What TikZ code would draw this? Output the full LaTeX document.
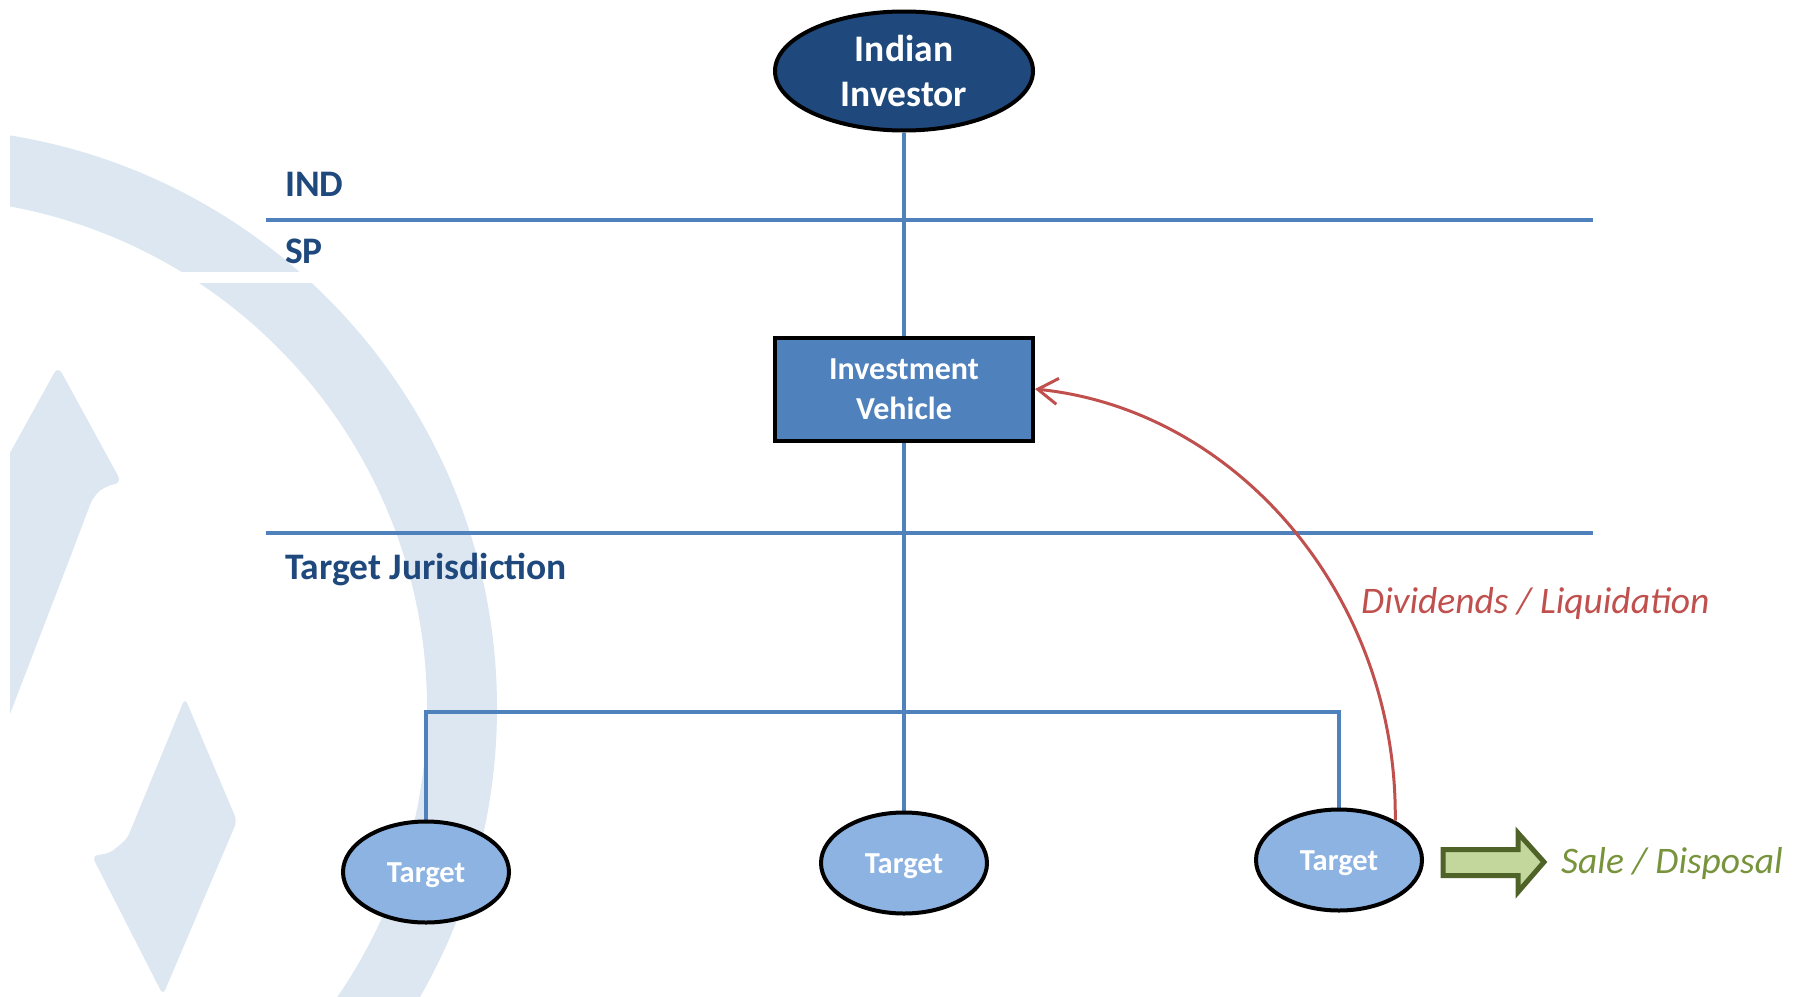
\documentclass[tikz,border=0pt]{standalone}
\usepackage{fontspec}
\setmainfont{Carlito}
\usetikzlibrary{arrows.meta,calc,shapes.geometric,backgrounds}
\definecolor{wm}{RGB}{221,231,241}
\definecolor{dkblue}{HTML}{1F497D}
\definecolor{medblue}{HTML}{4F81BD}
\definecolor{ltblue}{HTML}{8DB3E2}
\definecolor{redc}{HTML}{C0504D}
\definecolor{grfill}{HTML}{C3D69B}
\definecolor{grline}{HTML}{4F6228}
\definecolor{grtext}{HTML}{77933C}
\begin{document}
\begin{tikzpicture}[x=1pt,y=-1pt,
  conn/.style={draw=medblue,line width=4pt},
  sepline/.style={draw=medblue,line width=4pt},
  zonelabel/.style={anchor=base west,inner sep=0pt,text=dkblue,font=\fontsize{37.5}{45}\selectfont\bfseries},
  investor/.style={ellipse,draw=black,line width=4pt,fill=dkblue,text=white,minimum width=258pt,minimum height=119pt,inner sep=0pt,align=center,font=\fontsize{37.5}{45}\selectfont\bfseries},
  vehicle/.style={rectangle,draw=black,line width=4pt,fill=medblue,text=white,minimum width=258pt,minimum height=103pt,inner sep=0pt,align=center,font=\fontsize{32}{40}\selectfont\bfseries},
  target/.style={ellipse,draw=black,line width=4pt,fill=ltblue,text=white,minimum width=166pt,minimum height=101pt,inner sep=0pt,text height=20pt,text depth=0pt,font=\fontsize{30.5}{36}\selectfont\bfseries},
  flowlabel/.style={anchor=base west,inner sep=0pt,font=\fontsize{37.5}{45}\selectfont\itshape},
  flowarrow/.style={draw=redc,line width=3pt,-{Straight Barb[length=20pt,width=26pt]}},
  blockarrow/.style={draw=grline,fill=grfill,line width=5pt,line join=miter},
]
\useasboundingbox (0,0) rectangle (1796,996);
% watermark
\begin{pgfonlayer}{background}
\begin{scope}
  \clip (10,0) rectangle (1796,996);
  \fill[wm,even odd rule] (-83,708) circle (580pt) (-83,708) circle (510pt);
  \fill[wm,rounded corners=8pt] (0,471) -- (58,366) -- (122,483) -- (105,486) -- (93,497) -- (73,550) -- (0,740) -- cycle;
  \fill[wm,rounded corners=6pt] (185,698) -- (237,821) -- (163,995) -- (92,856) -- (110,853) -- (127,839) -- cycle;
\end{scope}
\fill[white] (0,272) rectangle (330,283);
\end{pgfonlayer}
% separators
\coordinate (s1a) at (266,220); \coordinate (s1b) at (1593,220);
\coordinate (s2a) at (266,533); \coordinate (s2b) at (1593,533);
\draw[sepline] (s1a) -- (s1b);
\draw[sepline] (s2a) -- (s2b);
\node[zonelabel] (ind) at (285,196) {IND};
\node[zonelabel] (sp) at (285,263) {SP};
\node[zonelabel] (tj) at (285,579) {Target Jurisdiction};
% nodes
\node[investor] (inv) at (904,71) {Indian\\Investor};
\node[vehicle] (veh) at (904,389) {Investment\\Vehicle};
\node[target] (t1) at (426,872) {Target};
\node[target] (t2) at (904,863) {Target};
\node[target] (t3) at (1339,860) {Target};
\coordinate (br) at (904,712);
\begin{pgfonlayer}{background}
  \draw[conn] (inv.south) -- (veh.north);
  \draw[conn] (veh.south) -- (t2.north);
  \draw[conn] (t1.north) -- (t1.north |- br) -- (t3.north |- br) -- (t3.north);
\end{pgfonlayer}
% dividends arc
\draw[flowarrow] (t3.35) .. controls (1398,600) and (1240,410) .. (veh.east);
\node[flowlabel,text=redc] (div) at (1361,613) {Dividends / Liquidation};
% sale arrow
\draw[blockarrow] (1443,849.5) -- (1518,849.5) -- (1518,833) -- (1544,862) -- (1518,892) -- (1518,875.5) -- (1443,875.5) -- cycle;
\node[flowlabel,text=grtext] (sale) at (1561,873) {Sale / Disposal};
\end{tikzpicture}
\end{document}
